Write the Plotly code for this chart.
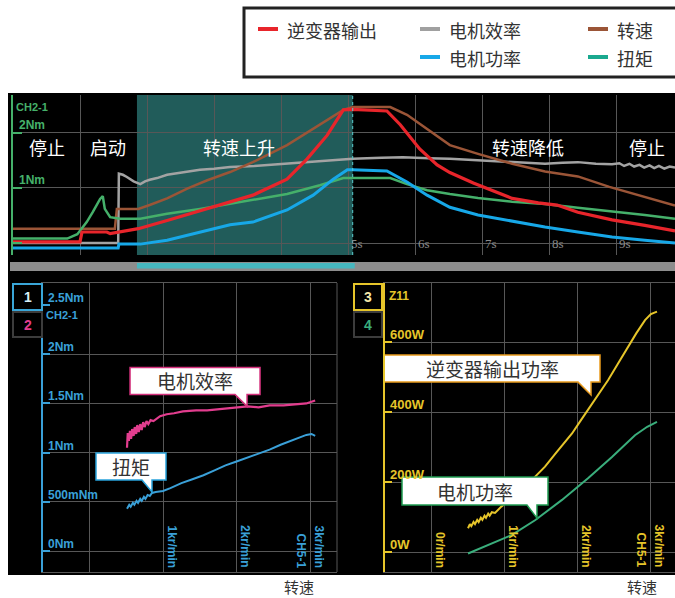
import plotly.graph_objects as go

W, H = 675, 598
CJK = "Noto Sans CJK SC, sans-serif"
LAT = "Liberation Sans, Arial, sans-serif"

# ---------------- data: top time chart (time in s, value on Nm scale) ----------------
t_grey = [0, 1.57, 1.58, 1.64, 1.70, 1.80, 1.90, 1.97, 2.04, 2.15, 2.30, 2.5, 2.79, 3.0, 3.24, 3.6, 4.09, 4.5,
          5.07, 5.5, 5.82, 6.2, 6.52, 7.0, 7.45, 7.94, 8.2, 8.43, 8.7, 8.94, 9.05, 9.12, 9.2, 9.27, 9.35, 9.42,
          9.5, 9.57, 9.64, 9.72, 9.8, 9.88]
v_grey = [0.0, 0.0, 1.26, 1.24, 1.20, 1.12, 1.07, 1.12, 1.15, 1.18, 1.24, 1.28, 1.33, 1.35, 1.38, 1.40, 1.44, 1.48,
          1.53, 1.55, 1.56, 1.54, 1.53, 1.50, 1.47, 1.44, 1.46, 1.47, 1.44, 1.43, 1.45, 1.40, 1.44, 1.39, 1.42, 1.37,
          1.41, 1.36, 1.40, 1.35, 1.39, 1.37]

t_brown = [0, 1.52, 1.55, 1.87, 2.04, 2.3, 2.6, 2.9, 3.24, 3.58, 4.09, 4.58, 4.93, 5.07, 5.63, 5.88, 6.18, 6.52,
           6.94, 7.45, 7.94, 8.13, 8.43, 8.9, 9.4, 9.88]
v_brown = [0.26, 0.26, 0.62, 0.62, 0.69, 0.81, 0.99, 1.14, 1.29, 1.47, 1.78, 2.15, 2.42, 2.47, 2.47, 2.33, 2.07, 1.78,
           1.62, 1.44, 1.30, 1.27, 1.21, 1.02, 0.84, 0.68]

t_green = [0, 0.81, 0.96, 1.10, 1.19, 1.30, 1.34, 1.37, 1.45, 1.60, 1.90, 2.30, 2.79, 3.24, 3.58, 4.09, 4.58, 4.93,
           5.07, 5.63, 5.88, 6.18, 6.52, 6.94, 7.45, 7.94, 8.43, 8.94, 9.43, 9.88]
v_green = [0.08, 0.08, 0.16, 0.38, 0.56, 0.80, 0.85, 0.62, 0.47, 0.44, 0.44, 0.53, 0.62, 0.71, 0.78, 0.89, 1.05, 1.18,
           1.18, 1.18, 1.07, 0.96, 0.89, 0.82, 0.75, 0.71, 0.64, 0.58, 0.51, 0.44]

t_blue = [0, 1.57, 1.58, 1.90, 2.30, 2.79, 3.24, 3.58, 4.09, 4.48, 4.78, 4.99, 5.07, 5.58, 5.88, 6.18, 6.52, 6.94,
          7.45, 7.94, 8.43, 8.94, 9.43, 9.88]
v_blue = [-0.09, -0.09, -0.02, -0.02, 0.05, 0.20, 0.33, 0.38, 0.60, 0.87, 1.16, 1.33, 1.33, 1.31, 1.11, 0.87, 0.65, 0.51,
          0.40, 0.29, 0.20, 0.11, 0.05, 0.00]

t_red = [0, 1.0, 1.03, 1.40, 1.45, 1.87, 2.30, 2.79, 3.24, 3.58, 4.09, 4.39, 4.69, 4.93, 5.07, 5.58, 5.78, 6.07,
         6.33, 6.52, 6.87, 7.01, 7.45, 7.84, 8.12, 8.43, 8.94, 9.43, 9.88]
v_red = [0.02, 0.02, 0.20, 0.20, 0.17, 0.26, 0.41, 0.59, 0.75, 0.87, 1.16, 1.53, 1.96, 2.42, 2.43, 2.40, 2.15, 1.71,
         1.42, 1.28, 1.09, 1.02, 0.81, 0.73, 0.69, 0.56, 0.42, 0.32, 0.22]

shade_t = [1.85, 5.07]           # highlighted time span
time_ticks = [5, 6, 7, 8, 9]
phase_labels = ["停止", "启动", "转速上升", "转速降低", "停止"]
phase_t = [0.51, 1.42, 3.37, 7.69, 9.46]
phase_v = 1.75

# ---------------- data: bottom-left (rpm vs Nm) ----------------
rpm_eff = [510, 520, 535, 550, 565, 580, 600, 615, 635, 650, 670, 690, 710, 730, 750, 775, 800, 830, 870, 920, 960,
           1050, 1150, 1270, 1450, 1600, 1750, 1900, 2150, 2300, 2450, 2640, 2800, 2950, 3070]
nm_eff = [1.05, 1.20, 1.12, 1.22, 1.14, 1.24, 1.17, 1.26, 1.19, 1.28, 1.21, 1.29, 1.23, 1.31, 1.26, 1.32, 1.29, 1.33,
          1.32, 1.35, 1.37, 1.39, 1.40, 1.42, 1.43, 1.43, 1.44, 1.45, 1.47, 1.46, 1.48, 1.48, 1.49, 1.50, 1.53]
rpm_trq = [510, 540, 560, 590, 610, 640, 660, 690, 710, 740, 760, 790, 820, 850, 900, 1000, 1100, 1250, 1400, 1550,
           1700, 1850, 2000, 2150, 2300, 2450, 2600, 2750, 2850, 2950, 3020, 3070]
nm_trq = [0.43, 0.47, 0.45, 0.49, 0.47, 0.51, 0.49, 0.53, 0.51, 0.55, 0.53, 0.57, 0.56, 0.59, 0.60, 0.61, 0.64, 0.69,
          0.73, 0.77, 0.82, 0.87, 0.91, 0.95, 0.99, 1.03, 1.08, 1.12, 1.15, 1.18, 1.19, 1.17]
nm_ticks = [2.5, 2, 1.5, 1, 0.5, 0]
nm_labels = ["2.5Nm", "2Nm", "1.5Nm", "1Nm", "500mNm", "0Nm"]

# ---------------- data: bottom-right (rpm vs W) ----------------
rpm_inv = [505, 530, 550, 580, 600, 630, 650, 680, 700, 730, 750, 780, 800, 830, 873, 950, 1050, 1187, 1300, 1420,
           1555, 1700, 1820, 1924, 2030, 2142, 2280, 2415, 2550, 2688, 2800, 2920, 3000, 3083]
w_inv = [68, 80, 74, 86, 80, 92, 86, 98, 92, 104, 98, 110, 104, 114, 112, 128, 145, 168, 190, 215,
         244, 282, 312, 339, 372, 406, 450, 491, 538, 587, 625, 663, 680, 687]
rpm_mot = [505, 778, 1105, 1419, 1787, 2142, 2469, 2783, 2950, 3083]
w_mot = [-4, 20, 49, 91, 149, 211, 272, 334, 358, 372]
w_ticks = [600, 400, 200, 0]
w_labels = ["600W", "400W", "200W", "0W"]
rpm_ticks = [0, 1000, 2000, 3000]
rpm_labels = ["0r/min", "1kr/min", "2kr/min", "3kr/min"]

legend_names = ["逆变器输出", "电机效率", "转速", "电机功率", "扭矩"]
legend_colors = ["#e8252b", "#a0a0a0", "#9b5537", "#17a8e8", "#1aa98f"]

C_RED, C_GREY, C_BROWN, C_GREEN, C_BLUE = "#e8252b", "#a3a3a3", "#9b5537", "#45b06a", "#17a8e8"
C_PINK, C_TBLUE, C_YEL, C_MGREEN = "#e23d8e", "#3aa0d8", "#e6c52a", "#3aae7c"
GRID = "#575757"


def px(x):
    return x / W


def py(y):
    return 1 - y / H


fig = go.Figure()
for tx, vy, col, wd in [(t_grey, v_grey, C_GREY, 2.5), (t_brown, v_brown, C_BROWN, 2.5),
                        (t_green, v_green, C_GREEN, 2.5), (t_blue, v_blue, C_BLUE, 3),
                        (t_red, v_red, C_RED, 3.2)]:
    fig.add_trace(go.Scatter(x=tx, y=vy, mode="lines", line=dict(color=col, width=wd),
                             xaxis="x", yaxis="y", hoverinfo="skip"))

fig.add_trace(go.Scatter(x=rpm_eff, y=nm_eff, mode="lines", line=dict(color=C_PINK, width=2.2),
                         xaxis="x2", yaxis="y2", hoverinfo="skip"))
fig.add_trace(go.Scatter(x=rpm_trq, y=nm_trq, mode="lines", line=dict(color=C_TBLUE, width=2),
                         xaxis="x2", yaxis="y2", hoverinfo="skip"))
fig.add_trace(go.Scatter(x=rpm_inv, y=w_inv, mode="lines", line=dict(color=C_YEL, width=2),
                         xaxis="x3", yaxis="y3", hoverinfo="skip"))
fig.add_trace(go.Scatter(x=rpm_mot, y=w_mot, mode="lines", line=dict(color=C_MGREEN, width=2),
                         xaxis="x3", yaxis="y3", hoverinfo="skip"))

bottom_dom = [py(572), py(283)]
fig.update_layout(
    width=W, height=H, margin=dict(l=0, r=0, t=0, b=0),
    paper_bgcolor="white", plot_bgcolor="black", showlegend=False,
    xaxis=dict(domain=[px(13), 1], range=[0, 9.88], tickvals=list(range(10)), showticklabels=False,
               showgrid=True, gridcolor=GRID, zeroline=False, ticks="", anchor="y"),
    yaxis=dict(domain=[py(255), py(95)], range=[-0.218, 2.69], tickvals=[0, 1, 2], showticklabels=False,
               gridcolor=GRID, zeroline=False, showline=True, linecolor=C_GREEN, linewidth=2,
               ticks="inside", ticklen=9, tickcolor=C_GREEN, tickwidth=2, anchor="x"),
    xaxis2=dict(domain=[px(43), px(337)], range=[-633, 3367], tickvals=rpm_ticks, showticklabels=False,
                gridcolor=GRID, zeroline=False, showline=True, mirror=True, linecolor=GRID, ticks="",
                anchor="y2"),
    yaxis2=dict(domain=bottom_dom, range=[-0.213, 2.724], tickvals=[0, 0.5, 1, 1.5, 2], showticklabels=False,
                gridcolor=GRID, zeroline=False, showline=True, linecolor=C_TBLUE, linewidth=2,
                ticks="inside", ticklen=7, tickcolor=C_TBLUE, tickwidth=2, anchor="x2",
                minor=dict(tickvals=[2.5], ticks="inside", ticklen=7, tickcolor=C_TBLUE, tickwidth=2,
                           showgrid=False)),
    xaxis3=dict(domain=[px(385), 1], range=[-628, 3329], tickvals=rpm_ticks, showticklabels=False,
                gridcolor=GRID, zeroline=False, showline=True, mirror=True, linecolor=GRID, ticks="",
                anchor="y3"),
    yaxis3=dict(domain=bottom_dom, range=[-57, 769], tickvals=[0, 200, 400, 600], showticklabels=False,
                gridcolor=GRID, zeroline=False, showline=True, linecolor=C_YEL, linewidth=2,
                ticks="inside", ticklen=7, tickcolor=C_YEL, tickwidth=2, anchor="x3"),
)

shapes = []
ann = []
# black instrument screen
shapes.append(dict(type="rect", xref="paper", yref="paper", x0=px(8), x1=1.0, y0=py(575), y1=py(93),
                   fillcolor="black", line=dict(width=0), layer="below"))
# highlighted span in top chart
shapes.append(dict(type="rect", xref="x", yref="y domain", x0=shade_t[0], x1=shade_t[1], y0=0, y1=1,
                   fillcolor="#215c5a", line=dict(width=0), layer="below"))
shapes.append(dict(type="line", xref="x", yref="y domain", x0=shade_t[1], x1=shade_t[1], y0=0, y1=1,
                   line=dict(color="#5ccfd0", width=1, dash="dot")))
# scroll bar
shapes.append(dict(type="rect", xref="paper", yref="paper", x0=px(10), x1=1.0, y0=py(271), y1=py(262),
                   fillcolor="#8d8d8d", line=dict(width=0)))
shapes.append(dict(type="rect", xref="x", yref="paper", x0=shade_t[0], x1=shade_t[1] + 0.03, y0=py(268.5),
                   y1=py(263), fillcolor="#46b7bf", line=dict(width=0)))
# right border of bottom-left panel
shapes.append(dict(type="line", xref="x2 domain", yref="y2 domain", x0=1, x1=1, y0=0, y1=1,
                   line=dict(color=GRID, width=1)))

# channel boxes
for (x0, y0, x1, y1, lc, txt, tc) in [(13, 284, 42, 310, "#3aa6d8", "1", "#d6eef8"),
                                      (13, 312, 42, 337, "#3c3c3c", "2", C_PINK),
                                      (354, 284, 382, 310, C_YEL, "3", "#f4e6a8"),
                                      (354, 312, 382, 337, "#3c3c3c", "4", C_MGREEN)]:
    shapes.append(dict(type="rect", xref="paper", yref="paper", x0=px(x0), x1=px(x1), y0=py(y1), y1=py(y0),
                       fillcolor="black", line=dict(color=lc, width=2)))
    ann.append(dict(xref="paper", yref="paper", x=px((x0 + x1) / 2), y=py((y0 + y1) / 2), text="<b>%s</b>" % txt,
                    showarrow=False, xanchor="center", yanchor="middle",
                    font=dict(family=LAT, size=14, color=tc)))

# legend box
shapes.append(dict(type="rect", xref="paper", yref="paper", x0=px(244), x1=1.03, y0=py(77), y1=py(8),
                   fillcolor="white", line=dict(color="#222222", width=3)))
leg_pos = [(258, 29), (420, 29), (588, 29), (420, 57), (588, 57)]
for name, col, (lx, ly) in zip(legend_names, legend_colors, leg_pos):
    shapes.append(dict(type="line", xref="paper", yref="paper", x0=px(lx), x1=px(lx + 20), y0=py(ly), y1=py(ly),
                       line=dict(color=col, width=4)))
    ann.append(dict(xref="paper", yref="paper", x=px(lx + 27), y=py(ly + 1), text=name, showarrow=False,
                    xanchor="left", yanchor="middle", font=dict(family=CJK, size=18, color="#333333")))

# top chart labels
for lab, tt in zip(phase_labels, phase_t):
    ann.append(dict(xref="x", yref="y", x=tt, y=phase_v, text=lab, showarrow=False,
                    xanchor="center", yanchor="middle",
                    font=dict(family=CJK, size=18, color="white")))
for tt in time_ticks:
    ann.append(dict(xref="x", yref="y domain", x=tt, y=0, text="%ds" % tt, showarrow=False, xanchor="left",
                    yanchor="bottom", xshift=1, yshift=2, font=dict(family="Liberation Serif, serif", size=13,
                                                                       color="#8a8a8a")))
ann.append(dict(xref="x domain", yref="y domain", x=0, y=1, text="<b>CH2-1</b>", showarrow=False, xanchor="left",
                yanchor="top", xshift=1, yshift=-4, font=dict(family=LAT, size=11, color=C_GREEN)))
for val, lab in [(2, "2Nm"), (1, "1Nm")]:
    ann.append(dict(xref="x domain", yref="y", x=0, y=val, text="<b>%s</b>" % lab, showarrow=False,
                    xanchor="left", yanchor="bottom", xshift=4, yshift=-1,
                    font=dict(family=LAT, size=12, color=C_GREEN)))

# bottom-left labels
for val, lab in zip(nm_ticks, nm_labels):
    ann.append(dict(xref="x2 domain", yref="y2", x=0, y=val, text="<b>%s</b>" % lab, showarrow=False,
                    xanchor="left", yanchor="bottom", xshift=3, yshift=-2,
                    font=dict(family=LAT, size=12, color=C_TBLUE)))
ann.append(dict(xref="x2 domain", yref="y2", x=0, y=2.5, text="<b>CH2-1</b>", showarrow=False, xanchor="left",
                yanchor="top", xshift=1, yshift=-2, font=dict(family=LAT, size=11, color=C_TBLUE)))
for val, lab in zip(rpm_ticks[1:], rpm_labels[1:]):
    ann.append(dict(xref="x2", yref="y2 domain", x=val, y=0, text="<b>%s</b>" % lab, showarrow=False,
                    textangle=90, xanchor="left", yanchor="bottom", yshift=2,
                    font=dict(family=LAT, size=12, color=C_TBLUE)))
ann.append(dict(xref="x2", yref="y2 domain", x=3000, y=0, text="<b>CH5-1</b>", showarrow=False, textangle=90,
                xanchor="right", yanchor="bottom", yshift=2, font=dict(family=LAT, size=12, color=C_TBLUE)))

# bottom-right labels
for val, lab in zip(w_ticks, w_labels):
    ann.append(dict(xref="x3 domain", yref="y3", x=0, y=val, text="<b>%s</b>" % lab, showarrow=False,
                    xanchor="left", yanchor="bottom", xshift=3, yshift=-2,
                    font=dict(family=LAT, size=13, color=C_YEL)))
ann.append(dict(xref="x3 domain", yref="y3 domain", x=0, y=1, text="<b>Z11</b>", showarrow=False,
                xanchor="left", yanchor="top", xshift=2, yshift=-4, font=dict(family=LAT, size=12, color=C_YEL)))
for val, lab in zip(rpm_ticks, rpm_labels):
    ann.append(dict(xref="x3", yref="y3 domain", x=val, y=0, text="<b>%s</b>" % lab, showarrow=False,
                    textangle=90, xanchor="left", yanchor="bottom", yshift=2,
                    font=dict(family=LAT, size=12, color=C_YEL)))
ann.append(dict(xref="x3", yref="y3 domain", x=3000, y=0, text="<b>CH5-1</b>", showarrow=False, textangle=90,
                xanchor="right", yanchor="bottom", yshift=2, font=dict(family=LAT, size=12, color=C_YEL)))

# callouts (speech bubbles anchored at a data point, sized in pixels)
callouts = [
    ("x2", "y2", 2143, 1.47, "电机效率", "#d4307c", (-117, 13, 12, 39, -12)),
    ("x2", "y2", 850, 0.60, "扭矩", "#29a3dc", (-56, 14, 12, 39, -10)),
    ("x3", "y3", 2183, 449, "逆变器输出功率", "#e89a1c", (-207, 9, 13, 40, -13)),
    ("x3", "y3", 1446, 97, "电机功率", "#1e9a50", (-135, 11, 13, 41, -10)),
]
for xr, yr, xv, yv, txt, col, (l, r, b, t, tb) in callouts:
    path = "M %d,%d L %d,%d L 0,0 L 0,%d L %d,%d L %d,%d L %d,%d Z" % (l, b, tb, b, b, r, b, r, t, l, t)
    shapes.append(dict(type="path", xref=xr, yref=yr, xsizemode="pixel", ysizemode="pixel", xanchor=xv,
                       yanchor=yv, path=path, fillcolor="white", line=dict(color=col, width=1.5)))
    ann.append(dict(xref=xr, yref=yr, x=xv, y=yv, text=txt, showarrow=False, xshift=(l + r) / 2,
                    yshift=(b + t) / 2, xanchor="center", yanchor="middle",
                    font=dict(family=CJK, size=19, color="#333333")))

# axis captions below panels
for xc in [299, 642]:
    ann.append(dict(xref="paper", yref="paper", x=px(xc), y=0, text="转速", showarrow=False,
                    xanchor="center", yanchor="bottom", borderpad=0,
                    font=dict(family=CJK, size=15, color="#333333")))

fig.update_layout(shapes=shapes, annotations=ann)
fig.write_html("out.html", config={"displayModeBar": False},
               post_script="document.body.style.margin='0px';document.body.style.overflow='hidden';")
